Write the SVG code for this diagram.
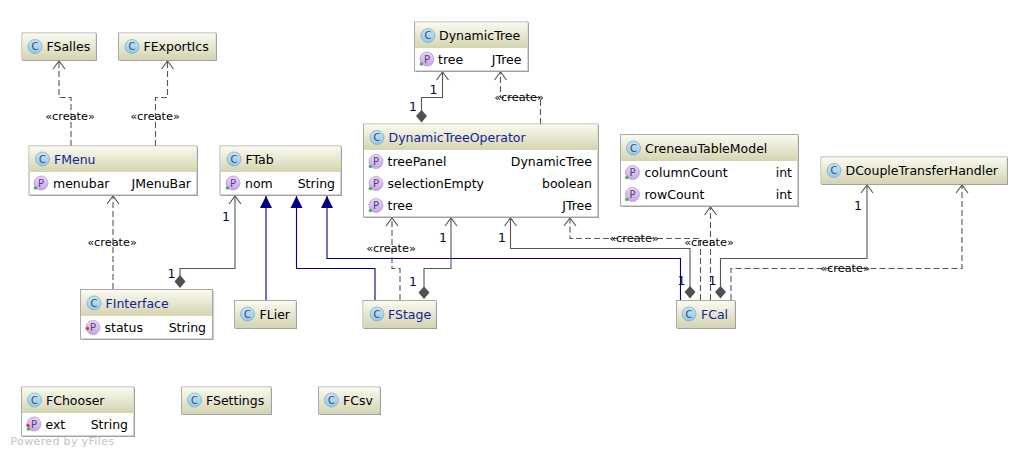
<svg xmlns="http://www.w3.org/2000/svg" xmlns:xlink="http://www.w3.org/1999/xlink" width="1029" height="457" viewBox="0 0 1029 457">
<style>
text{font-family:"DejaVu Sans","Liberation Sans",sans-serif;font-size:12.5px;fill:#000}
.b{fill:#fff;stroke:#aaa;stroke-width:1}
.s{fill:#808080;opacity:.8}
.h{fill:url(#hg)}
.blue{fill:#12239a}
.r{text-anchor:end}
.ci{fill:url(#cg);stroke:#74a8cc;stroke-width:.7}
.pi{fill:url(#pg);stroke:#b08fd6;stroke-width:.7}
.il{font-size:10px;fill:#3f4c58;text-anchor:middle}
.l{font-size:11.300px;fill:#000;text-anchor:middle}
.n{font-size:12.500px;fill:#000a30;text-anchor:middle}
.w{font-size:11px;fill:#c4c4c4;letter-spacing:.35px}
.a,.d,.g{fill:none;stroke:#555;stroke-width:1.100}
.d{stroke-dasharray:6 3;marker-end:url(#open)}
.a{marker-end:url(#open)}
.g{stroke:#000080;marker-end:url(#tri)}
.dm{fill:#505050}
</style>
<defs>
<linearGradient id="hg" x1="0" y1="0" x2="0" y2="1"><stop offset="0" stop-color="#fafaf0"/><stop offset="1" stop-color="#d4d4b0"/></linearGradient>
<linearGradient id="cg" x1="0" y1="0" x2="0" y2="1"><stop offset="0" stop-color="#c8e4f6"/><stop offset="1" stop-color="#90c8ec"/></linearGradient>
<linearGradient id="pg" x1="0" y1="0" x2="0" y2="1"><stop offset="0" stop-color="#e6d6f6"/><stop offset="1" stop-color="#c8a4ea"/></linearGradient>
<marker id="open" markerUnits="userSpaceOnUse" markerWidth="12" markerHeight="14" refX="10" refY="7" orient="auto"><path d="M2 1L10 7L2 13" fill="none" stroke="#555" stroke-width="1.100"/></marker>
<marker id="tri" markerUnits="userSpaceOnUse" markerWidth="13" markerHeight="14" refX="12" refY="7" orient="auto"><path d="M0 1L12 7L0 13Z" fill="#000080"/></marker>
<g id="cic"><circle r="7" class="ci"/><text class="il" y="3.500">C</text></g>
<g id="pic"><circle r="7" class="pi"/><text class="il" y="3.500" style="fill:#54426a">P</text><circle cx="-5.600" cy="5" r="1.800" fill="#4fae5a"/></g>
<g id="picr"><circle r="7" class="pi"/><text class="il" y="3.500" style="fill:#54426a">P</text><circle cx="-5.600" cy="1" r="1.800" fill="#d9463c"/></g>
</defs>
<rect width="1029" height="457" fill="#fff"/>
<g id="connectors">
<path class="d" d="M71 146V97.500H59V61"/>
<path class="d" d="M155.500 146V97.500H167.500V61"/>
<path class="d" d="M113 289V196"/>
<path class="a" d="M180 276V268.500H235V196"/>
<path class="g" d="M266 300V196"/>
<path class="g" d="M375 300V268.500H296.500V196"/>
<path class="g" d="M680.500 300V258.500H327V196"/>
<path class="d" d="M400 300V268.500H392V218"/>
<path class="a" d="M424 288V268.500H451V218"/>
<path class="a" d="M690 287V248.500H510.500V218"/>
<path class="d" d="M700.500 300V238.500H570V218"/>
<path class="d" d="M710.500 300V207"/>
<path class="a" d="M720.500 287V258.500H867V185"/>
<path class="d" d="M731 300V268.500H962V185"/>
<path class="a" d="M421.500 111V97.500H442.500V72"/>
<path class="d" d="M540.500 124V97.500H500.500V72"/>
<path class="dm" d="M180 275L185.500 281.500L180 288L174.500 281.500Z"/>
<path class="dm" d="M424 286.500L429.500 292.500L424 299L418.500 292.500Z"/>
<path class="dm" d="M690 286L695.500 292L690 298.500L684.500 292Z"/>
<path class="dm" d="M720.500 286L726 292L720.500 298.500L715 292Z"/>
<path class="dm" d="M421.500 110L427 116L421.500 122.500L416 116Z"/>
<text class="l" x="70" y="120">«create»</text>
<text class="l" x="155" y="120">«create»</text>
<text class="l" x="112" y="245.500">«create»</text>
<text class="l" x="391" y="251.500">«create»</text>
<text class="l" x="519" y="101">«create»</text>
<text class="l" x="634" y="242">«create»</text>
<text class="l" x="709" y="246">«create»</text>
<text class="l" x="845" y="272">«create»</text>
<text class="n" x="226" y="220.500">1</text>
<text class="n" x="171.500" y="278">1</text>
<text class="n" x="433.500" y="94">1</text>
<text class="n" x="413" y="110.500">1</text>
<text class="n" x="413" y="285.500">1</text>
<text class="n" x="443" y="242">1</text>
<text class="n" x="502" y="242">1</text>
<text class="n" x="681.500" y="285">1</text>
<text class="n" x="712.500" y="285">1</text>
<text class="n" x="858" y="209.500">1</text>
</g>
<g id="FSalles">
<rect class="s" x="23" y="34" width="74" height="27"/><rect class="b" x="22" y="33" width="74" height="27"/><rect class="h" x="22.500" y="33.500" width="73" height="26"/>
<use xlink:href="#cic" href="#cic" x="35" y="46.500"/><text x="46.500" y="51">FSalles</text>
</g>
<g id="FExportIcs">
<rect class="s" x="119.500" y="34" width="97.500" height="27"/><rect class="b" x="118.500" y="33" width="97.500" height="27"/><rect class="h" x="119" y="33.500" width="96.500" height="26"/>
<use xlink:href="#cic" href="#cic" x="132" y="46.500"/><text x="143.500" y="51">FExportIcs</text>
</g>
<g id="FMenu">
<rect class="s" x="30" y="147" width="168" height="49"/><rect class="b" x="29" y="146" width="168" height="49"/><rect class="h" x="29.500" y="146.500" width="167" height="25.500"/>
<use xlink:href="#cic" href="#cic" x="42.500" y="159"/><text class="blue" x="54" y="163.500">FMenu</text>
<use xlink:href="#pic" href="#pic" x="41" y="183"/><text x="53" y="187.500">menubar</text><text class="r" x="191" y="187.500">JMenuBar</text>
</g>
<g id="FTab">
<rect class="s" x="221" y="147" width="121" height="49"/><rect class="b" x="220" y="146" width="121" height="49"/><rect class="h" x="220.500" y="146.500" width="120" height="25.500"/>
<use xlink:href="#cic" href="#cic" x="234" y="159"/><text x="245.500" y="163.500">FTab</text>
<use xlink:href="#pic" href="#pic" x="233" y="183"/><text x="245" y="187.500">nom</text><text class="r" x="335" y="187.500">String</text>
</g>
<g id="DynamicTree">
<rect class="s" x="415.500" y="23" width="113.500" height="49"/><rect class="b" x="414.500" y="22" width="113.500" height="49"/><rect class="h" x="415" y="22.500" width="112.500" height="25.500"/>
<use xlink:href="#cic" href="#cic" x="428" y="35.500"/><text x="439" y="40">DynamicTree</text>
<use xlink:href="#pic" href="#pic" x="427" y="59"/><text x="438" y="63.500">tree</text><text class="r" x="521.500" y="63.500">JTree</text>
</g>
<g id="DynamicTreeOperator">
<rect class="s" x="364.500" y="125" width="234.500" height="93"/><rect class="b" x="363.500" y="124" width="234.500" height="93"/><rect class="h" x="364" y="124.500" width="233.500" height="25.500"/>
<use xlink:href="#cic" href="#cic" x="377" y="137.500"/><text class="blue" x="388.500" y="142">DynamicTreeOperator</text>
<use xlink:href="#pic" href="#pic" x="376" y="161.500"/><text x="387.500" y="166">treePanel</text><text class="r" x="592" y="166">DynamicTree</text>
<use xlink:href="#pic" href="#pic" x="376" y="183.500"/><text x="387.500" y="188">selectionEmpty</text><text class="r" x="592" y="188">boolean</text>
<use xlink:href="#pic" href="#pic" x="376" y="205.500"/><text x="387.500" y="210">tree</text><text class="r" x="592" y="210">JTree</text>
</g>
<g id="CreneauTableModel">
<rect class="s" x="621.500" y="135.500" width="177.500" height="71.500"/><rect class="b" x="620.500" y="134.500" width="177.500" height="71.500"/><rect class="h" x="621" y="135" width="176.500" height="26"/>
<use xlink:href="#cic" href="#cic" x="633.500" y="148"/><text x="645" y="152.500">CreneauTableModel</text>
<use xlink:href="#pic" href="#pic" x="632.500" y="172.500"/><text x="644.500" y="177">columnCount</text><text class="r" x="792" y="177">int</text>
<use xlink:href="#pic" href="#pic" x="632.500" y="194.500"/><text x="644.500" y="199">rowCount</text><text class="r" x="792" y="199">int</text>
</g>
<g id="DCoupleTransferHandler">
<rect class="s" x="822" y="158" width="186" height="27"/><rect class="b" x="821" y="157" width="186" height="27"/><rect class="h" x="821.500" y="157.500" width="185" height="26"/>
<use xlink:href="#cic" href="#cic" x="834" y="170.500"/><text x="845.500" y="175">DCoupleTransferHandler</text>
</g>
<g id="FInterface">
<rect class="s" x="81.500" y="290.500" width="132" height="49.500"/><rect class="b" x="80.500" y="289.500" width="132" height="49.500"/><rect class="h" x="81" y="290" width="131" height="26"/>
<use xlink:href="#cic" href="#cic" x="94" y="303"/><text class="blue" x="105.500" y="307.500">FInterface</text>
<use xlink:href="#picr" href="#picr" x="93" y="327.500"/><text x="104.500" y="332">status</text><text class="r" x="206" y="332">String</text>
</g>
<g id="FLier">
<rect class="s" x="235.500" y="301.500" width="61.500" height="27.500"/><rect class="b" x="234.500" y="300.500" width="61.500" height="27.500"/><rect class="h" x="235" y="301" width="60.500" height="26.500"/>
<use xlink:href="#cic" href="#cic" x="247.500" y="314"/><text x="259.500" y="318.500">FLier</text>
</g>
<g id="FStage">
<rect class="s" x="364" y="301.500" width="73" height="27.500"/><rect class="b" x="363" y="300.500" width="73" height="27.500"/><rect class="h" x="363.500" y="301" width="72" height="26.500"/>
<use xlink:href="#cic" href="#cic" x="377" y="314"/><text class="blue" x="388" y="318.500">FStage</text>
</g>
<g id="FCal">
<rect class="s" x="677.500" y="301.500" width="58.500" height="27.500"/><rect class="b" x="676.500" y="300.500" width="58.500" height="27.500"/><rect class="h" x="677" y="301" width="57.500" height="26.500"/>
<use xlink:href="#cic" href="#cic" x="689" y="314"/><text class="blue" x="701" y="318.500">FCal</text>
</g>
<g id="FChooser">
<rect class="s" x="22.500" y="388" width="112.500" height="49"/><rect class="b" x="21.500" y="387" width="112.500" height="49"/><rect class="h" x="22" y="387.500" width="111.500" height="25.500"/>
<use xlink:href="#cic" href="#cic" x="34.500" y="400"/><text x="46" y="404.500">FChooser</text>
<use xlink:href="#pic" href="#pic" x="34" y="424"/><circle cx="28" cy="425.500" r="1.800" fill="#d9463c"/><text x="45.500" y="428.500">ext</text><text class="r" x="128" y="428.500">String</text>
</g>
<g id="FSettings">
<rect class="s" x="182.500" y="388" width="89.500" height="27"/><rect class="b" x="181.500" y="387" width="89.500" height="27"/><rect class="h" x="182" y="387.500" width="88.500" height="26"/>
<use xlink:href="#cic" href="#cic" x="194.500" y="400"/><text x="206" y="404.500">FSettings</text>
</g>
<g id="FCsv">
<rect class="s" x="319.500" y="388" width="61.500" height="27"/><rect class="b" x="318.500" y="387" width="61.500" height="27"/><rect class="h" x="319" y="387.500" width="60.500" height="26"/>
<use xlink:href="#cic" href="#cic" x="331.500" y="400"/><text x="343" y="404.500">FCsv</text>
</g>
<text class="w" x="10.500" y="445">Powered by yFiles</text>
</svg>
